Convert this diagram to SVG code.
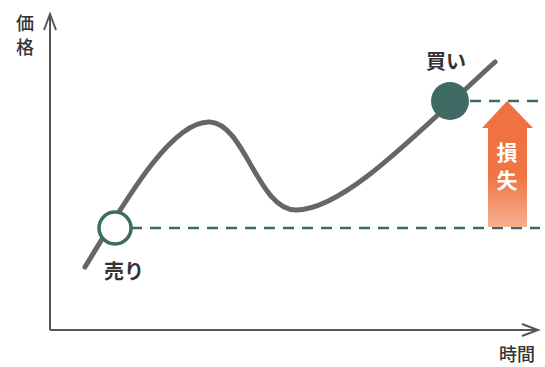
<svg xmlns="http://www.w3.org/2000/svg" width="545" height="367" viewBox="0 0 545 367">
<defs>
<style>
.axis{stroke:#5a5550;stroke-width:2;fill:none}
.dash{stroke:#3d6b63;stroke-width:2.5;stroke-dasharray:11 8;fill:none}
.lbl{font-family:"Noto Sans CJK JP","Noto Sans",sans-serif;font-size:20px;font-weight:bold;fill:#333}
.alb{font-family:"Noto Sans CJK JP","Noto Sans",sans-serif;font-size:18px;font-weight:500;fill:#333}
.wt{font-family:"Noto Sans CJK JP","Noto Sans",sans-serif;font-size:21px;font-weight:bold;fill:#fff;text-anchor:middle}
</style>
<linearGradient id="og" x1="0" y1="0" x2="0" y2="1">
<stop offset="0" stop-color="#f07040"/>
<stop offset="0.6" stop-color="#f07445"/>
<stop offset="1" stop-color="#f6b090"/>
</linearGradient>
</defs>
<g id="axes">
<path class="axis" d="M50,330 V14 M44,30 L50,14 L56,30"/>
<path class="axis" d="M50,330 H538 M522,324 L538,330 L522,336"/>
<text class="alb" x="16" y="30">価</text>
<text class="alb" x="16" y="54">格</text>
<text class="alb" x="499" y="361">時間</text>
</g>
<g id="connectors">
<line class="dash" x1="131" y1="228" x2="540" y2="228"/>
<line class="dash" x1="470" y1="101" x2="540" y2="101"/>
</g>
<g id="curve">
<path d="M85,267 C120,210 170,120 210,122 C245,124 258,210 296,210 C345,210 420,130 495,62" fill="none" stroke="#666" stroke-width="5" stroke-linecap="round"/>
</g>
<g id="loss">
<path d="M507,101 L533,128 L527,128 L527,227 L488,227 L488,128 L482,128 Z" fill="url(#og)"/>
<text class="wt" x="507" y="160">損</text>
<text class="wt" x="507" y="188">失</text>
</g>
<g id="sell">
<circle cx="115" cy="228" r="16" fill="#fff" stroke="#3d6b63" stroke-width="3.5"/>
<text class="lbl" x="104" y="279">売り</text>
</g>
<g id="buy">
<circle cx="450" cy="101" r="19" fill="#3f6b64"/>
<text class="lbl" x="426" y="69">買い</text>
</g>
</svg>
